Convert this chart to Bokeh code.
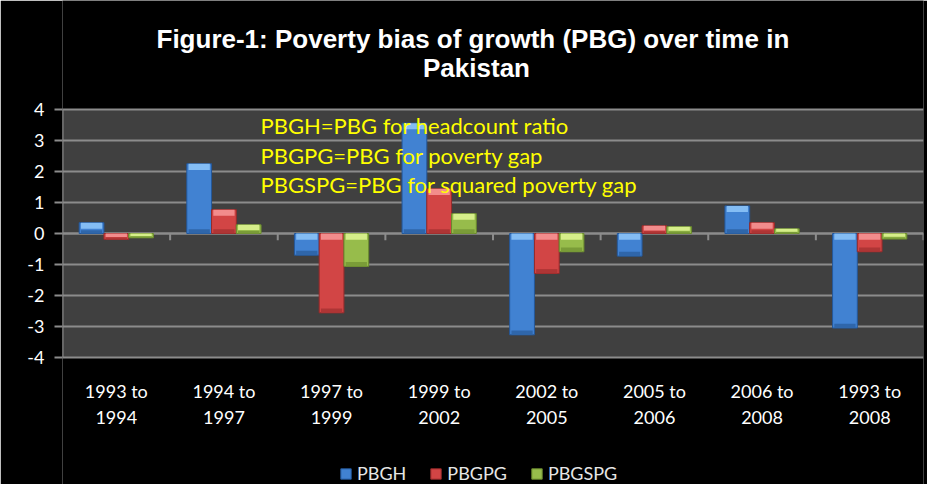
from bokeh.plotting import figure
from bokeh.models import (FixedTicker, Span, Legend, LegendItem, Range1d, Label,
                          BoxAnnotation)
from bokeh.embed import file_html
from bokeh.resources import INLINE
from bokeh.core.properties import value

# ---- data ----
categories = ["1993 to\n1994", "1994 to\n1997", "1997 to\n1999", "1999 to\n2002",
              "2002 to\n2005", "2005 to\n2006", "2006 to\n2008", "1993 to\n2008"]
series_names = ["PBGH", "PBGPG", "PBGSPG"]
pbgh = [0.35, 2.25, -0.70, 3.56, -3.27, -0.73, 0.89, -3.05]
pbgpg = [-0.19, 0.77, -2.56, 1.44, -1.29, 0.25, 0.35, -0.59]
pbgspg = [-0.14, 0.28, -1.06, 0.64, -0.59, 0.22, 0.15, -0.18]
y_ticks = [-4, -3, -2, -1, 0, 1, 2, 3, 4]
y_tick_labels = ["-4", "-3", "-2", "-1", "0", "1", "2", "3", "4"]
notes = ["PBGH=PBG for headcount ratio",
         "PBGPG=PBG for poverty gap",
         "PBGSPG=PBG for squared poverty gap"]
title_lines = ["Figure-1:  Poverty bias of growth (PBG) over time in", "Pakistan"]

# ---- style / layout ----
main_colors = ["#4182d2", "#d24545", "#97bc4b"]
edge_colors = ["#24589a", "#962a2a", "#6a8a2e"]
light_colors = ["#84bdf4", "#f28c8c", "#d6ee8a"]
dark_colors = ["#2f66aa", "#ae3535", "#7a9c38"]
FONT = "Lato"
W, H = 927, 484
PX = 31.0                    # pixels per y unit in the value area
TOP_PAD, BOT_PAD = 109, 127  # pixels above / below the value area
ymin, ymax = min(y_ticks), max(y_ticks)

n = len(categories)
p = figure(width=W, height=H, output_backend="svg", toolbar_location=None,
           x_range=Range1d(0, n),
           y_range=Range1d(ymin - BOT_PAD / PX, ymax + TOP_PAD / PX),
           x_axis_location=None,
           background_fill_color="black", border_fill_color="black",
           outline_line_color=None,
           min_border_left=62, min_border_right=4, min_border_top=0, min_border_bottom=0)
p.title.visible = False

# value-area background
p.add_layout(BoxAnnotation(bottom=ymin, top=ymax, fill_color="#404040", fill_alpha=1,
                           line_color=None, level="image"))

# grid / y axis
p.xgrid.grid_line_color = None
p.ygrid.grid_line_color = "#8c8c8c"
p.ygrid.grid_line_width = 2
p.yaxis.ticker = FixedTicker(ticks=y_ticks)
p.yaxis.major_label_overrides = {t: lab for t, lab in zip(y_ticks, y_tick_labels)}
p.yaxis.axis_line_color = None
p.yaxis.major_tick_line_color = "#8c8c8c"
p.yaxis.major_tick_line_width = 2
p.yaxis.major_tick_out = 8
p.yaxis.major_tick_in = 0
p.yaxis.minor_tick_line_color = None
p.yaxis.major_label_text_color = "white"
p.yaxis.major_label_text_font = FONT
p.yaxis.major_label_text_font_size = "18px"
p.yaxis.major_label_standoff = 10
p.segment(x0=[0], y0=[ymin], x1=[0], y1=[ymax], line_color="#8c8c8c", line_width=2)

# zero line and category boundary ticks
p.add_layout(Span(location=0, dimension="width", line_color="#8c8c8c", line_width=2,
                  level="underlay"))
bounds = list(range(1, n + 1))
p.segment(x0=bounds, y0=[0] * len(bounds), x1=bounds, y1=[-0.22] * len(bounds),
          line_color="#8c8c8c", line_width=2)

# category labels
centers = [i + 0.5 for i in range(n)]
p.text(x=centers, y=[ymin - 0.72] * n, text=categories, text_align="center",
       text_baseline="top", text_color="white", text_font=value(FONT),
       text_font_size="18px", text_line_height=1.18)

# bars
bw = 0.23
offsets = [-bw, 0, bw]
legend_items = []
for k, vals in enumerate([pbgh, pbgpg, pbgspg]):
    xs = [c + offsets[k] for c in centers]
    r = p.vbar(x=xs, top=[max(v, 0) for v in vals], bottom=[min(v, 0) for v in vals],
               width=bw, fill_color=main_colors[k], line_color=edge_colors[k], line_width=1)
    hl = [min(0.2, 0.6 * abs(v)) for v in vals]
    p.vbar(x=xs, top=[max(v, 0) for v in vals],
           bottom=[max(v, 0) - h for v, h in zip(vals, hl)],
           width=bw * 0.86, fill_color=light_colors[k], line_color=None)
    hd = [min(0.14, 0.3 * abs(v)) for v in vals]
    p.vbar(x=xs, top=[min(v, 0) + h for v, h in zip(vals, hd)],
           bottom=[min(v, 0) for v in vals],
           width=bw * 0.86, fill_color=dark_colors[k], line_color=None)
    legend_items.append(LegendItem(label=series_names[k], renderers=[r]))

# notes
for i, note in enumerate(notes):
    p.add_layout(Label(x=1.84, y=3.48 - i * 0.95, text=note, text_color="#ffff00",
                       text_font=FONT, text_font_size="22px", text_baseline="middle",
                       text_align="left"))

# title (two centred lines)
title_x = (476 - 62) / (861 / n)
for i, line in enumerate(title_lines):
    p.add_layout(Label(x=title_x, y=ymax + (109 - 38 - i * 29) / PX, text=line,
                       text_color="white", text_font="Liberation Sans",
                       text_font_size="26px", text_font_style="bold",
                       text_align="center", text_baseline="middle"))

legend = Legend(items=legend_items, orientation="horizontal", location=(277, 0),
                background_fill_alpha=0, border_line_color=None,
                label_text_color="#e6e6e6", label_text_font=FONT,
                label_text_font_size="18px", glyph_width=13, glyph_height=13,
                label_height=18, spacing=23, label_standoff=5, margin=0, padding=0)
p.add_layout(legend, "center")

open("out.html", "w").write(file_html(p, INLINE))
